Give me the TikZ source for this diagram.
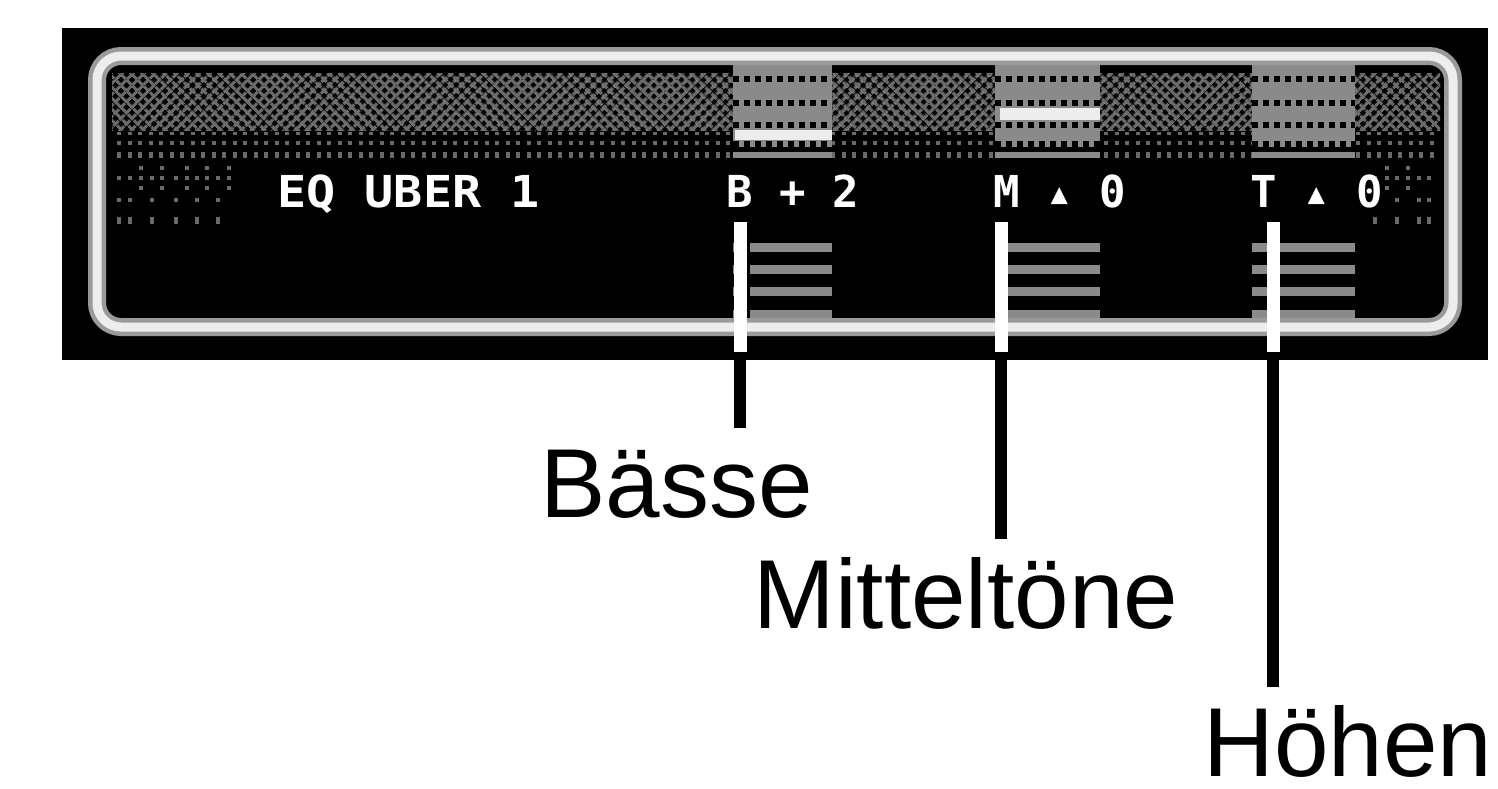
\documentclass[tikz,border=0pt]{standalone}
\usepackage{fontspec}
\setmainfont{Liberation Sans}
\newfontfamily\pixfont{DejaVu Sans Mono}
\usetikzlibrary{patterns.meta}
\definecolor{lcd}{HTML}{6A6A6A}
\definecolor{bargray}{HTML}{8A8A8A}
\definecolor{rim}{HTML}{9A9A9A}
\definecolor{rimhi}{HTML}{EDEDED}
\begin{document}
\begin{tikzpicture}[x=0.5pt,y=-0.5pt,
  lab/.style={anchor=base west, font=\fontsize{49}{55}\selectfont, inner sep=0pt, text height=36pt, text depth=0pt},
  pix/.style={anchor=base west, text=white, font=\pixfont\bfseries\fontsize{22}{24}\selectfont, inner sep=0pt},
  ptrwhite/.style={draw=white, line width=6.5pt},
  ptrblack/.style={draw=black, line width=6pt, shorten >=8.5pt},
  notch/.style={draw=black, line width=3pt, dash pattern=on 3pt off 2.5pt},
  hibar/.style={fill=rimhi}]
\useasboundingbox (0,0) rectangle (1498,788);
\fill[white] (0,0) rectangle (1498,788);
% display panel
\fill[black] (62,28) rectangle (1488,360);
% checker area
\fill[pattern={Lines[angle=45,distance=4pt,line width=1.6pt]},pattern color=lcd] (112,73) rectangle (1440,130);
\fill[pattern={Lines[angle=-45,distance=4pt,line width=1.6pt]},pattern color=lcd] (112,73) rectangle (1440,130);
% dot rows
\draw[lcd, line width=1.5pt, dash pattern=on 2pt off 3.25pt] (117,133) -- (1434,133);
\draw[lcd, line width=2pt, dash pattern=on 2pt off 3.25pt] (117,143) -- (1434,143);
\draw[lcd, line width=3pt, dash pattern=on 2pt off 3.25pt] (117,155) -- (1434,155);
% sparse dots left and right
\foreach \yy/\xs in {168/{141,162,187,207,229,1387,1408},
                     178/{119,130,141,152,162,176,187,197,207,218,229,1375,1387,1397,1408,1419,1429},
                     188/{141,162,187,207,229,1387,1408},
                     200/{119,130,152,176,197,218,1397,1419,1429}}
  {\foreach \xx in \xs {\fill[lcd] (\xx-2,\yy-2) rectangle ++(4,4);}}
\foreach \xx in {119,130,152,176,197,218,1375,1397,1419,1429}
  {\fill[lcd] (\xx-2,217) rectangle ++(4,7);}
% level columns
\foreach \xl/\xr in {733/832,995/1100,1252/1355} {
  \fill[bargray] (\xl,63) rectangle (\xr,147);
  \foreach \yy in {79,103,125,144} {\draw[notch] (\xl,\yy) -- (\xr,\yy);}
  \fill[bargray] (\xl,152) rectangle (\xr,158);
  \foreach \yy in {243,265,287,310} {\fill[bargray] (\xl,\yy) rectangle (\xr,\yy+9);}
}
\fill[black] (745,240) rectangle (750,322);
\fill[hibar] (735,130) rectangle (832,140);
\fill[hibar] (1000,108) rectangle (1100,120);
% rim of the display
\draw[rim, line width=9pt, rounded corners=12pt] (97,56) rectangle (1453,327);
\draw[rimhi, line width=4.5pt, rounded corners=12pt] (97,56) rectangle (1453,327);
% display texts
\node[pix, xscale=1.1] (eq) at (277,207) {EQ UBER 1};
\node[pix] (bval) at (726,207) {B + 2};
\node[pix] (mval) at (993,207) {M ▴ 0};
\node[pix] (tval) at (1250,207) {T ▴ 0};
% labels
\node[lab] (basse) at (540,517) {Bässe};
\node[lab] (mittel) at (753,628) {Mitteltöne};
\node[lab] (hoehen) at (1203,776) {Höhen};
% pointers
\coordinate (bt) at (740,222);
\coordinate (bm) at (740,352);
\coordinate (mt) at (1001,222);
\coordinate (mm) at (1001,352);
\coordinate (tt) at (1273,222);
\coordinate (tm) at (1273,352);
\draw[ptrwhite] (bt) -- (bm);
\draw[ptrwhite] (mt) -- (mm);
\draw[ptrwhite] (tt) -- (tm);
\draw[ptrblack] (bm) -- (bm |- basse.north);
\draw[ptrblack] (mm) -- (mm |- mittel.north);
\draw[ptrblack] (tm) -- (tm |- hoehen.north);
\end{tikzpicture}
\end{document}
